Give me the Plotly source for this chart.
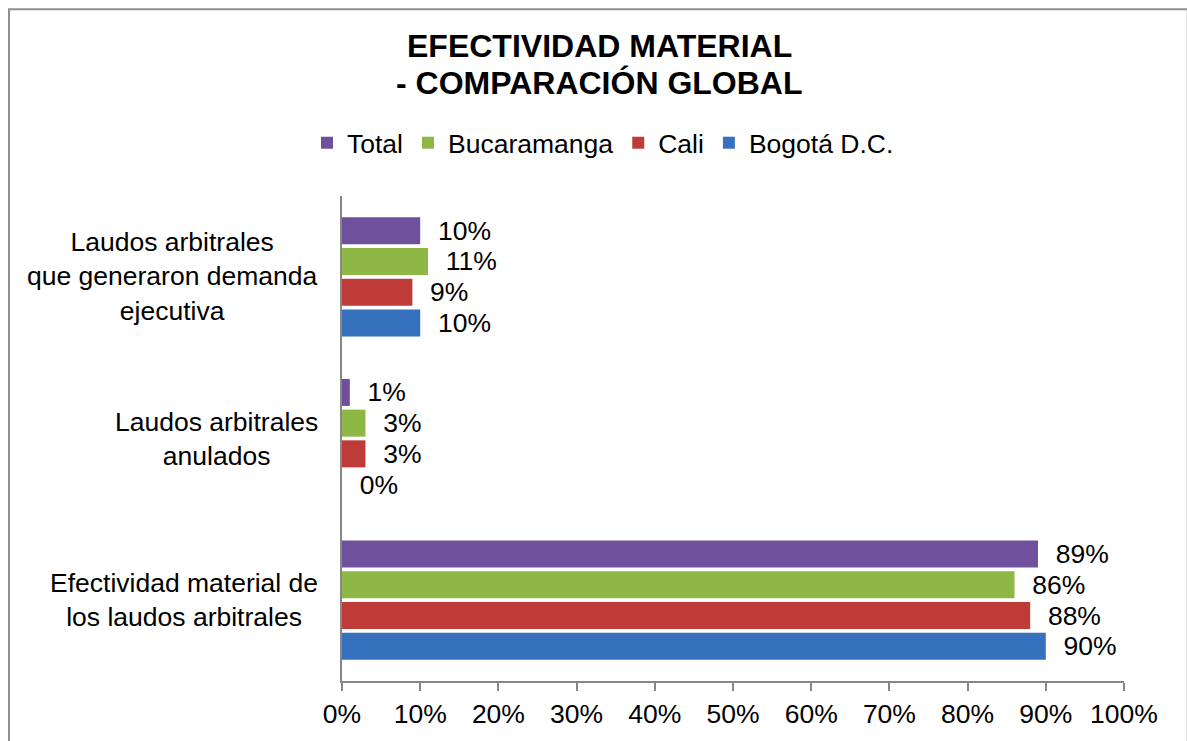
import plotly.graph_objects as go

# Categories (bottom to top as drawn on the category axis)
categories = [
    "Efectividad material de<br>los laudos arbitrales",
    "Laudos arbitrales<br>anulados",
    "Laudos arbitrales<br>que generaron demanda<br>ejecutiva",
]

# Percent values per series, in the same order as the categories
bogota = [90, 0, 10]
cali = [88, 3, 9]
bucaramanga = [86, 3, 11]
total = [89, 1, 10]

series_names = ["Bogotá D.C.", "Cali", "Bucaramanga", "Total"]
series_values = [bogota, cali, bucaramanga, total]
series_colors = ["#3671BD", "#BE3B38", "#8EB746", "#6F509C"]

x_ticks = list(range(0, 101, 10))
title_lines = ["EFECTIVIDAD MATERIAL", "- COMPARACIÓN GLOBAL"]

FONT = "Liberation Sans, Arial, sans-serif"
AXIS_GRAY = "#878787"
SIZE = 26.5

fig = go.Figure()
for name, vals, color in zip(series_names, series_values, series_colors):
    fig.add_trace(go.Bar(
        y=categories,
        x=vals,
        name=name,
        orientation="h",
        marker=dict(color=color, line=dict(width=0)),
        text=[f"{v}%" for v in vals],
        texttemplate="\u00a0\u00a0%{text}",
        textposition="outside",
        constraintext="none",
        textfont=dict(family=FONT, size=SIZE, color="#000000"),
        cliponaxis=False,
    ))

# Category labels, centred line by line to the left of the axis
for cat in categories:
    fig.add_annotation(
        x=0, xref="paper", y=cat, yref="y",
        text=cat, showarrow=False,
        xanchor="right", xshift=-22, align="center",
        font=dict(family=FONT, size=SIZE, color="#000000"),
    )

# Two-line bold title, centred over the whole chart
title_x = (599 - 342) / 782
for line, ypos in zip(title_lines, [1.310, 1.234]):
    fig.add_annotation(
        x=title_x, xref="paper", y=ypos, yref="paper",
        text=f"<b>{line}</b>", showarrow=False,
        xanchor="center", yanchor="middle",
        font=dict(family=FONT, size=32, color="#000000"),
    )

# Outer chart frame
fig.add_shape(
    type="rect", xref="paper", yref="paper",
    x0=-0.4258, x1=1.0815, y0=-0.2, y1=1.3853,
    line=dict(color="#8E8E8E", width=2), fillcolor="rgba(0,0,0,0)",
    layer="below",
)

fig.update_layout(
    width=1187, height=741,
    margin=dict(l=342, r=63, t=196, b=58),
    paper_bgcolor="#FFFFFF",
    plot_bgcolor="#FFFFFF",
    barmode="group",
    bargap=0.24,
    bargroupgap=0.12,
    font=dict(family=FONT, size=SIZE, color="#000000"),
    legend=dict(
        orientation="h", traceorder="reversed",
        x=603 / 1187, xref="container", xanchor="center",
        y=1 - 143 / 741, yref="container", yanchor="middle",
        font=dict(family=FONT, size=SIZE, color="#000000"),
        itemwidth=30,
        bgcolor="rgba(0,0,0,0)",
    ),
    xaxis=dict(
        range=[0, 100],
        tickvals=x_ticks,
        ticktext=[f"{v}%" for v in x_ticks],
        showgrid=False, zeroline=False,
        showline=True, linecolor=AXIS_GRAY, linewidth=2,
        ticks="outside", ticklen=8, tickwidth=2, tickcolor=AXIS_GRAY,
        tickfont=dict(family=FONT, size=SIZE, color="#000000"),
        fixedrange=True,
    ),
    yaxis=dict(
        categoryorder="array", categoryarray=categories,
        showticklabels=False,
        showgrid=False, zeroline=False,
        showline=True, linecolor=AXIS_GRAY, linewidth=2,
        ticks="",
        fixedrange=True,
    ),
)

fig.write_html("out.html")
